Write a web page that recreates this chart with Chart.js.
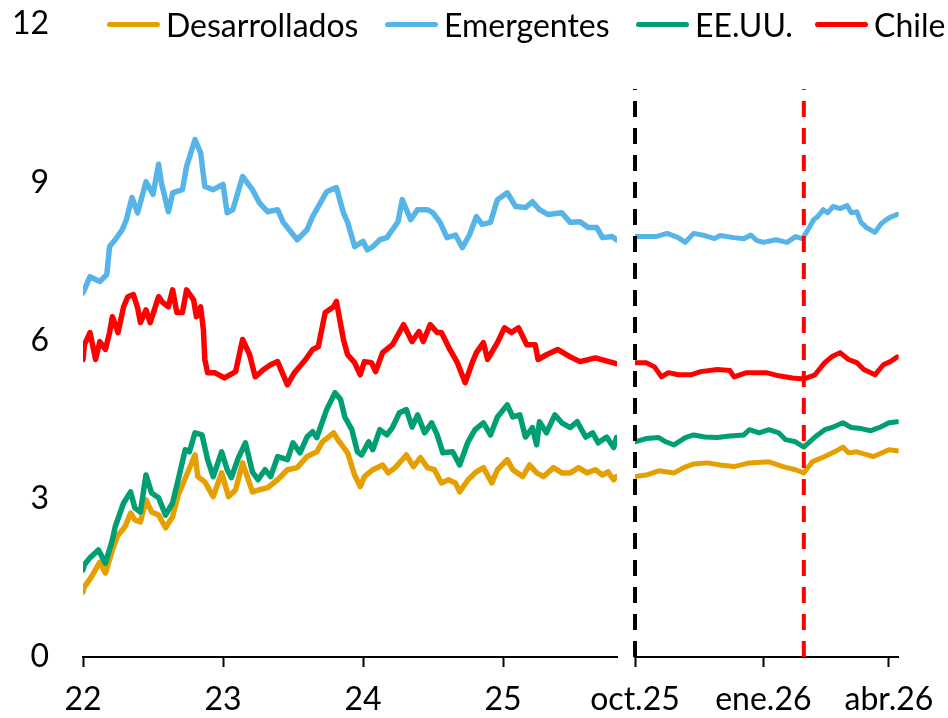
<!DOCTYPE html>
<html lang="es">
<head>
<meta charset="utf-8">
<title>Tasas de interés</title>
<script src="https://cdn.jsdelivr.net/npm/chart.js@4.4.1/dist/chart.umd.min.js"></script>
<style>
  html, body { margin: 0; padding: 0; background: #fff; }
  #wrap { position: relative; width: 948px; height: 718px; overflow: hidden; font-family: Lato, "Noto Sans", sans-serif; }
  #left { position: absolute; left: 0; top: 0; }
  #right { position: absolute; left: 560px; top: 0; }
  .item { position: absolute; top: 5px; height: 38px; display: flex; align-items: center; font-size: 32px; color: #000; white-space: nowrap; }
  .pill { width: 53px; height: 5px; border-radius: 3px; margin-right: 6px; }
</style>
</head>
<body>
<div id="wrap">
  <canvas id="left" width="625" height="718"></canvas>
  <canvas id="right" width="388" height="718"></canvas>
  <div id="legend"></div>
</div>
<script>
// Datos: panel izquierdo (x = año decimal, 22 = ene.2022)
const series = ["Desarrollados", "Emergentes", "EE.UU.", "Chile"];
const colors = ["#E69F00", "#56B4E9", "#009E73", "#FF0000"];
const yTicks = [0, 3, 6, 9, 12];
const leftTicks = [22, 23, 24, 25];
const leftEnd = 25.814;

const desarrolladosHist = [
  [22.00,1.23],[22.01,1.33],[22.06,1.52],[22.12,1.80],[22.16,1.59],[22.21,2.03],[22.25,2.31],[22.30,2.47],
  [22.34,2.73],[22.37,2.60],[22.41,2.56],[22.45,2.98],[22.49,2.75],[22.54,2.69],[22.59,2.45],[22.64,2.66],
  [22.68,3.07],[22.74,3.45],[22.80,3.83],[22.82,3.42],[22.87,3.32],[22.93,3.04],[22.99,3.49],[23.04,3.04],
  [23.09,3.17],[23.14,3.68],[23.21,3.13],[23.26,3.17],[23.32,3.21],[23.39,3.36],[23.46,3.55],[23.53,3.59],
  [23.60,3.80],[23.67,3.89],[23.71,4.08],[23.79,4.25],[23.82,4.12],[23.89,3.87],[23.94,3.45],[23.98,3.23],
  [24.01,3.42],[24.07,3.55],[24.14,3.64],[24.18,3.49],[24.23,3.59],[24.28,3.74],[24.31,3.83],[24.36,3.61],
  [24.41,3.78],[24.46,3.59],[24.51,3.55],[24.56,3.30],[24.61,3.36],[24.66,3.30],[24.69,3.13],[24.75,3.36],
  [24.81,3.51],[24.86,3.59],[24.92,3.30],[24.96,3.55],[25.03,3.74],[25.07,3.55],[25.14,3.42],[25.19,3.64],
  [25.24,3.49],[25.29,3.42],[25.36,3.59],[25.42,3.49],[25.48,3.49],[25.54,3.59],[25.60,3.49],[25.66,3.55],
  [25.71,3.45],[25.75,3.51],[25.79,3.36],[25.81,3.42]
];
const emergentesHist = [
  [22.00,6.90],[22.05,7.21],[22.12,7.12],[22.17,7.25],[22.19,7.78],[22.23,7.91],[22.28,8.10],[22.31,8.29],
  [22.35,8.71],[22.39,8.42],[22.45,9.01],[22.50,8.77],[22.54,9.34],[22.56,8.99],[22.61,8.44],[22.64,8.80],
  [22.71,8.86],[22.74,9.30],[22.80,9.81],[22.84,9.56],[22.87,8.92],[22.93,8.86],[23.00,8.96],[23.03,8.42],
  [23.07,8.48],[23.14,9.11],[23.21,8.86],[23.26,8.61],[23.32,8.44],[23.39,8.48],[23.43,8.24],[23.53,7.91],
  [23.60,8.10],[23.64,8.35],[23.74,8.82],[23.81,8.90],[23.86,8.42],[23.89,8.24],[23.94,7.78],[24.00,7.88],
  [24.03,7.72],[24.07,7.78],[24.12,7.91],[24.17,7.95],[24.21,8.10],[24.25,8.25],[24.28,8.67],[24.31,8.48],
  [24.34,8.29],[24.39,8.48],[24.46,8.48],[24.50,8.42],[24.55,8.24],[24.60,7.95],[24.66,8.00],[24.71,7.76],
  [24.76,8.00],[24.81,8.35],[24.85,8.20],[24.91,8.24],[24.96,8.67],[25.03,8.80],[25.09,8.54],[25.16,8.52],
  [25.21,8.63],[25.26,8.48],[25.32,8.39],[25.42,8.42],[25.48,8.24],[25.55,8.25],[25.61,8.14],[25.67,8.14],
  [25.71,7.95],[25.78,7.97],[25.81,7.91]
];
const eeuuHist = [
  [22.00,1.65],[22.01,1.75],[22.05,1.88],[22.11,2.03],[22.16,1.78],[22.21,2.22],[22.23,2.47],[22.29,2.92],
  [22.34,3.13],[22.37,2.83],[22.41,2.75],[22.45,3.45],[22.49,3.11],[22.54,3.02],[22.59,2.69],[22.64,2.92],
  [22.68,3.36],[22.73,3.93],[22.76,3.89],[22.80,4.25],[22.85,4.21],[22.89,3.74],[22.93,3.42],[22.99,3.89],
  [23.03,3.55],[23.06,3.40],[23.11,3.78],[23.16,4.06],[23.21,3.51],[23.25,3.36],[23.30,3.55],[23.34,3.42],
  [23.39,3.80],[23.46,3.74],[23.50,4.06],[23.55,3.87],[23.60,4.17],[23.64,4.27],[23.67,4.16],[23.74,4.69],
  [23.80,5.01],[23.84,4.88],[23.87,4.55],[23.92,4.31],[23.96,3.89],[23.99,3.83],[24.04,4.08],[24.07,3.93],
  [24.12,4.31],[24.17,4.21],[24.21,4.35],[24.26,4.63],[24.31,4.69],[24.35,4.36],[24.39,4.59],[24.44,4.25],
  [24.49,4.44],[24.53,4.21],[24.57,3.87],[24.64,3.89],[24.69,3.64],[24.75,4.08],[24.80,4.31],[24.86,4.44],
  [24.91,4.21],[24.96,4.55],[25.03,4.78],[25.07,4.55],[25.12,4.59],[25.16,4.17],[25.21,4.35],[25.24,4.02],
  [25.26,4.46],[25.31,4.25],[25.37,4.59],[25.42,4.44],[25.48,4.35],[25.53,4.46],[25.59,4.17],[25.64,4.25],
  [25.68,4.06],[25.74,4.17],[25.79,3.97],[25.81,4.16]
];
const chileHist = [
  [22.00,5.64],[22.01,5.92],[22.05,6.15],[22.09,5.64],[22.12,5.98],[22.16,5.83],[22.19,6.15],[22.21,6.45],
  [22.25,6.15],[22.29,6.64],[22.32,6.83],[22.36,6.87],[22.39,6.62],[22.41,6.34],[22.45,6.58],[22.48,6.34],
  [22.54,6.83],[22.57,6.72],[22.61,6.64],[22.64,6.96],[22.67,6.53],[22.71,6.53],[22.74,6.96],[22.79,6.77],
  [22.81,6.45],[22.84,6.64],[22.86,6.20],[22.87,5.64],[22.89,5.39],[22.94,5.39],[23.01,5.29],[23.09,5.41],
  [23.14,6.02],[23.19,5.73],[23.23,5.31],[23.29,5.45],[23.34,5.54],[23.39,5.60],[23.46,5.16],[23.51,5.39],
  [23.59,5.64],[23.64,5.83],[23.68,5.88],[23.73,6.53],[23.79,6.64],[23.81,6.74],[23.86,6.02],[23.89,5.73],
  [23.94,5.58],[23.98,5.35],[24.01,5.60],[24.06,5.58],[24.09,5.41],[24.14,5.77],[24.21,5.92],[24.29,6.30],
  [24.35,5.98],[24.40,6.17],[24.43,5.98],[24.48,6.30],[24.53,6.15],[24.56,6.15],[24.62,5.83],[24.67,5.60],
  [24.73,5.20],[24.78,5.58],[24.81,5.77],[24.86,5.96],[24.89,5.64],[24.96,5.96],[25.01,6.24],[25.06,6.15],
  [25.11,6.24],[25.17,5.92],[25.23,5.92],[25.25,5.64],[25.31,5.73],[25.39,5.83],[25.48,5.69],[25.55,5.60],
  [25.66,5.67],[25.73,5.62],[25.81,5.56]
];

// Datos: panel derecho (fechas diarias)
const rightTicks = ["2025-10-01", "2026-01-01", "2026-04-01"];
const rightTickLabels = ["oct.25", "ene.26", "abr.26"];
const rightStart = "2025-10-01";
const rightEnd = "2026-04-08";
const marcaNegra = "2025-10-01";
const marcaRoja = "2026-01-30";
const marcaAlto = 10.77;

const desarrolladosRec = [
  ["2025-10-01",3.42],["2025-10-09",3.45],["2025-10-18",3.53],["2025-10-29",3.49],["2025-11-05",3.59],
  ["2025-11-12",3.66],["2025-11-22",3.68],["2025-12-01",3.64],["2025-12-11",3.61],["2025-12-22",3.68],
  ["2026-01-05",3.70],["2026-01-15",3.61],["2026-01-24",3.55],["2026-01-30",3.49],["2026-02-05",3.70],
  ["2026-02-14",3.80],["2026-02-21",3.89],["2026-02-27",3.98],["2026-03-03",3.87],["2026-03-09",3.89],
  ["2026-03-21",3.80],["2026-04-01",3.93],["2026-04-07",3.91]
];
const emergentesRec = [
  ["2025-10-01",7.97],["2025-10-09",7.97],["2025-10-16",7.97],["2025-10-24",8.03],["2025-11-01",7.95],
  ["2025-11-06",7.86],["2025-11-12",8.03],["2025-11-20",7.99],["2025-11-27",7.93],["2025-12-01",7.99],
  ["2025-12-11",7.95],["2025-12-18",7.93],["2025-12-23",8.00],["2025-12-27",7.90],["2026-01-01",7.86],
  ["2026-01-10",7.91],["2026-01-18",7.86],["2026-01-24",7.97],["2026-01-29",7.93],["2026-02-02",8.10],
  ["2026-02-06",8.29],["2026-02-09",8.35],["2026-02-13",8.48],["2026-02-16",8.42],["2026-02-20",8.54],
  ["2026-02-25",8.50],["2026-03-02",8.56],["2026-03-05",8.42],["2026-03-09",8.44],["2026-03-12",8.24],
  ["2026-03-16",8.14],["2026-03-22",8.05],["2026-03-26",8.20],["2026-03-30",8.29],["2026-04-03",8.35],
  ["2026-04-07",8.39]
];
const eeuuRec = [
  ["2025-10-01",4.08],["2025-10-09",4.14],["2025-10-18",4.16],["2025-10-23",4.08],["2025-10-29",4.02],
  ["2025-11-06",4.16],["2025-11-12",4.21],["2025-11-20",4.17],["2025-11-29",4.16],["2025-12-08",4.19],
  ["2025-12-18",4.21],["2025-12-22",4.31],["2025-12-29",4.25],["2026-01-05",4.31],["2026-01-12",4.25],
  ["2026-01-17",4.12],["2026-01-24",4.08],["2026-01-30",3.98],["2026-02-07",4.17],["2026-02-14",4.31],
  ["2026-02-20",4.36],["2026-02-27",4.44],["2026-03-05",4.35],["2026-03-12",4.33],["2026-03-19",4.29],
  ["2026-03-26",4.36],["2026-04-01",4.44],["2026-04-07",4.46]
];
const chileRec = [
  ["2025-10-01",5.58],["2025-10-09",5.58],["2025-10-15",5.50],["2025-10-20",5.31],["2025-10-25",5.39],
  ["2025-11-01",5.35],["2025-11-10",5.35],["2025-11-17",5.41],["2025-11-29",5.45],["2025-12-08",5.43],
  ["2025-12-11",5.31],["2025-12-20",5.39],["2026-01-03",5.39],["2026-01-12",5.33],["2026-01-22",5.29],
  ["2026-01-30",5.27],["2026-02-07",5.35],["2026-02-14",5.58],["2026-02-19",5.69],["2026-02-25",5.77],
  ["2026-03-03",5.64],["2026-03-09",5.58],["2026-03-14",5.45],["2026-03-22",5.35],["2026-03-28",5.54],
  ["2026-04-02",5.60],["2026-04-07",5.69]
];

const App = (() => {
  const font = { family: "Lato, 'Noto Sans', sans-serif", size: 32 };
  const dayNum = (s) => Date.parse(s + "T00:00:00Z") / 864e5;

  const toPoints = (rows) => rows.map(([x, y]) => ({ x: x, y: y }));
  const toDayPoints = (rows) => rows.map(([d, y]) => ({ x: dayNum(d), y: y }));

  const lineSet = (label, data, color, width) => ({
    label: label,
    data: data,
    borderColor: color,
    borderWidth: width,
    pointRadius: 0,
    tension: 0,
    borderJoinStyle: "round",
    borderCapStyle: "round"
  });

  // Eje x con marcas hacia abajo y línea negra
  const xAxis = (min, max, ticks, labelFn) => ({
    type: "linear",
    min: min,
    max: max,
    afterBuildTicks: (scale) => { scale.ticks = ticks.map(v => ({ value: v })); },
    afterFit: (scale) => { scale.height = 61; },
    ticks: { font: font, color: "#000", padding: 13, maxRotation: 0, autoSkip: false, callback: labelFn },
    grid: { display: true, drawOnChartArea: false, drawTicks: true, tickLength: 10, tickColor: "#000", tickWidth: 2 },
    border: { display: true, color: "#000", width: 2 }
  });

  const drawLeft = () => {
    const hist = [desarrolladosHist, emergentesHist, eeuuHist, chileHist];
    new Chart(document.getElementById("left"), {
      type: "line",
      data: {
        datasets: hist.map((rows, i) => ({ ...lineSet(series[i], toPoints(rows), colors[i], 5.5), order: 4 - i }))
      },
      options: {
        responsive: false,
        animation: false,
        layout: { padding: { top: 24, right: 8, left: 0, bottom: 0 } },
        plugins: { legend: { display: false }, tooltip: { enabled: false } },
        scales: {
          x: xAxis(leftTicks[0], leftEnd, leftTicks, (v) => String(v)),
          y: {
            min: 0,
            max: 12,
            afterBuildTicks: (scale) => { scale.ticks = yTicks.map(v => ({ value: v })); },
            afterFit: (scale) => {
              scale.width = 83;
              scale.paddingTop = 0;
              scale.paddingBottom = 0;
            },
            ticks: { font: font, color: "#000", padding: 34 },
            grid: { display: false, drawTicks: false },
            border: { display: false }
          }
        }
      }
    });
  };

  const drawRight = () => {
    const rec = [desarrolladosRec, emergentesRec, eeuuRec, chileRec];
    const datasets = rec.map((rows, i) => ({ ...lineSet(series[i], toDayPoints(rows), colors[i], 5), order: 4 - i }));
    // Líneas verticales punteadas
    const marca = (fecha, color) => ({
      label: "marca",
      data: [{ x: dayNum(fecha), y: 0 }, { x: dayNum(fecha), y: marcaAlto }],
      borderColor: color,
      borderWidth: 4,
      borderDash: [16, 11],
      borderCapStyle: "butt",
      pointRadius: 0,
      clip: false,
      order: -1
    });
    datasets.push(marca(marcaNegra, "#000"), marca(marcaRoja, "#FF0000"));

    new Chart(document.getElementById("right"), {
      type: "line",
      data: { datasets: datasets },
      options: {
        responsive: false,
        animation: false,
        layout: { padding: { top: 24, right: 44, left: 75, bottom: 0 } },
        plugins: { legend: { display: false }, tooltip: { enabled: false } },
        scales: {
          x: xAxis(dayNum(rightStart), dayNum(rightEnd), rightTicks.map(dayNum), (v, i) => rightTickLabels[i]),
          y: { display: false, min: 0, max: 12 }
        }
      }
    });
  };

  // Leyenda en HTML sobre el gráfico
  const legendX = [107, 385, 636, 815];
  const drawLegend = () => {
    document.getElementById("legend").innerHTML = series.map((name, i) => `
      <div class="item" style="left:${legendX[i]}px">
        <span class="pill" style="background:${colors[i]}"></span>${name}
      </div>`).join("");
  };

  const init = () => {
    drawLegend();
    drawLeft();
    drawRight();
  };

  return { init: init };
})();

document.fonts.load("32px Lato").then(App.init, App.init);
</script>
</body>
</html>
